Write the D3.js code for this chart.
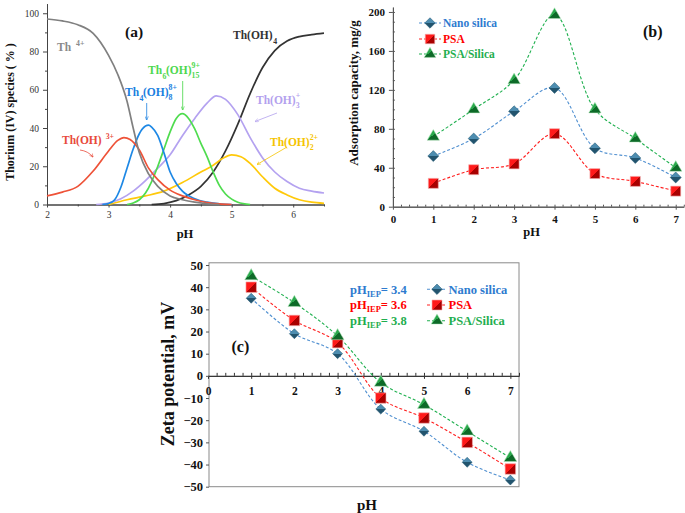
<!DOCTYPE html>
<html><head><meta charset="utf-8">
<script src="https://cdn.jsdelivr.net/npm/d3@7"></script>
<style>body{margin:0;background:#fff}svg{display:block}</style>
</head><body>
<svg id="chart" width="685" height="513"></svg>
<script>
// ---------- Panel (a): thorium speciation ----------
const th4_pH  = [2, 2.25, 2.5, 2.75, 3.0, 3.15, 3.3, 3.4, 3.5, 3.65, 3.8, 4.0, 4.2, 4.4, 4.6, 4.8];
const th4_val = [97, 96, 94, 89.5, 78, 68, 54, 40, 27, 16, 9.5, 4.5, 2.5, 1.2, 0.4, 0];
const thOH_pH  = [2, 2.25, 2.5, 2.75, 3.0, 3.15, 3.25, 3.35, 3.5, 3.65, 3.8, 4.0, 4.2, 4.4, 4.6, 4.8, 5.0];
const thOH_val = [4.5, 6.5, 9.5, 17.5, 28, 33.5, 35, 34, 28.5, 19, 13, 7.5, 4.5, 2.5, 1, 0.3, 0];
const th4OH8_pH  = [2.9, 3.0, 3.1, 3.2, 3.3, 3.4, 3.5, 3.6, 3.65, 3.7, 3.8, 3.9, 4.0, 4.1, 4.2, 4.4, 4.6, 4.8, 5.0];
const th4OH8_val = [0, 0.5, 2.5, 9, 19, 29, 37, 41, 41.5, 40.5, 36, 27, 17, 11, 7, 3, 1.2, 0.4, 0];
const th6OH15_pH  = [3.3, 3.4, 3.5, 3.6, 3.7, 3.8, 3.9, 4.0, 4.1, 4.2, 4.3, 4.4, 4.5, 4.6, 4.7, 4.8, 4.9, 5.0, 5.1, 5.3];
const th6OH15_val = [0, 0.8, 2.5, 6, 12, 20, 29, 38, 45, 47.5, 45, 39.5, 32, 25, 17, 10, 5.5, 2.8, 1.2, 0];
const thOH3_pH  = [2.8, 3.0, 3.2, 3.4, 3.6, 3.8, 4.0, 4.2, 4.4, 4.6, 4.75, 4.9, 5.1, 5.3, 5.5, 5.7, 5.9, 6.1, 6.3, 6.5];
const thOH3_val = [0, 0.8, 3, 7, 12.5, 19, 26, 36, 45, 53, 56.8, 55, 47, 35, 24.5, 17, 12, 8.5, 7, 6];
const thOH2_pH  = [3.0, 3.3, 3.6, 3.9, 4.2, 4.5, 4.7, 4.85, 5.0, 5.15, 5.3, 5.5, 5.7, 5.9, 6.1, 6.3, 6.5];
const thOH2_val = [0, 2.5, 4.5, 7, 11.5, 17, 20.5, 24, 26, 25, 21.5, 14.5, 8.5, 5, 2.5, 1.2, 0.6];
const thOH4_pH  = [3.7, 3.9, 4.1, 4.3, 4.5, 4.7, 4.9, 5.1, 5.3, 5.5, 5.7, 5.9, 6.1, 6.3, 6.5];
const thOH4_val = [0, 0.5, 2, 5, 9.5, 17, 28, 42, 58, 71.5, 80.5, 85.5, 87.8, 88.8, 89.6];
const aXTicks = [2, 3, 4, 5, 6];
const aYTicks = [0, 20, 40, 60, 80, 100];

// ---------- Panel (b): adsorption capacity ----------
const phCats = [1, 2, 3, 4, 5, 6, 7];
const adsNano = [52, 70, 98, 122, 60, 50, 30];
const adsPSA = [24, 38, 44, 75, 34, 26, 16];
const adsPSASilica = [72, 100, 130, 197, 100, 70, 40];
const bXTicks = [0, 1, 2, 3, 4, 5, 6, 7];
const bYTicks = [0, 40, 80, 120, 160, 200];

// ---------- Panel (c): zeta potential ----------
const zetaNano = [35, 19, 10, -15, -25, -39, -47];
const zetaPSA = [40, 25, 15, -10, -19, -30, -42];
const zetaPSASilica = [45, 33, 18, -3, -13, -25, -37];
const cYTicks = [50, 40, 30, 20, 10, 0, -10, -20, -30, -40, -50];
const seriesNames = ["Nano silica", "PSA", "PSA/Silica"];
const iepValues = ["3.4", "3.6", "3.8"];

const serif = '"Liberation Serif","Times New Roman",Times,serif';
const svg = d3.select("#chart");

// gradients for 3D-looking markers
const defs = svg.append("defs");
function grad(id, c1, c2) {
  const g = defs.append("linearGradient").attr("id", id)
    .attr("x1", "0").attr("y1", "0").attr("x2", "1").attr("y2", "1");
  g.append("stop").attr("offset", "0").attr("stop-color", c1);
  g.append("stop").attr("offset", "0.5").attr("stop-color", c1);
  g.append("stop").attr("offset", "0.5").attr("stop-color", c2);
  g.append("stop").attr("offset", "1").attr("stop-color", c2);
}
grad("gNano", "#4d8db0", "#22546e");
grad("gPSA", "#ff1a1a", "#a80000");
grad("gPS", "#2aa84c", "#0d6a28");
["arrGray","arrBlue","arrGreen","arrPurple","arrYellow","arrRed"].forEach((id,i)=>{
  const col = ["#888","#1a7fe0","#44d444","#b3a1ee","#f5c400","#e84a3a"][i];
  defs.append("marker").attr("id", id).attr("viewBox","0 0 10 10").attr("refX",9).attr("refY",5)
    .attr("markerWidth",5).attr("markerHeight",5).attr("orient","auto")
    .append("path").attr("d","M0,1 L10,5 L0,9").attr("fill","none").attr("stroke",col).attr("stroke-width",1.5);
});

function styleAxis(g, fs, fw, tc, lc) {
  g.attr("font-family", serif).attr("font-size", fs).attr("font-weight", fw);
  g.selectAll("text").attr("fill", tc);
  g.selectAll("line").attr("stroke", lc);
  g.select(".domain").attr("stroke", lc);
}
function range(a, b, s) { const r = []; for (let v = a; v <= b + 1e-9; v += s) r.push(+v.toFixed(3)); return r; }

// ================= PANEL A =================
const xA = d3.scaleLinear().domain([2, 6.5]).range([47, 324]);
const yA = d3.scaleLinear().domain([0, 105]).range([204.5, 3.7]);
const gA = svg.append("g");
gA.append("g").attr("transform", "translate(0,204.5)")
  .call(d3.axisBottom(xA).tickValues(range(2.5, 6.5, 1)).tickSize(2).tickSizeOuter(0).tickFormat(""))
  .call(g => styleAxis(g, 9, "normal", "#333", "#444"));
gA.append("g").attr("transform", "translate(0,204.5)")
  .call(d3.axisBottom(xA).tickValues(aXTicks).tickSize(3).tickSizeOuter(0).tickPadding(4).tickFormat(d3.format("d")))
  .call(g => styleAxis(g, 9.5, "normal", "#333", "#444"));
gA.append("g").attr("transform", "translate(47,0)")
  .call(d3.axisLeft(yA).tickValues(range(10, 90, 20)).tickSize(2).tickSizeOuter(0).tickFormat(""))
  .call(g => styleAxis(g, 9, "normal", "#333", "#444"));
gA.append("g").attr("transform", "translate(47,0)")
  .call(d3.axisLeft(yA).tickValues(aYTicks).tickSize(4).tickSizeOuter(0).tickPadding(4))
  .call(g => styleAxis(g, 9.5, "normal", "#333", "#444"));

const lineA = d3.line().x(d => xA(d[0])).y(d => yA(d[1])).curve(d3.curveMonotoneX);
const speciesA = [
  [thOH4_pH, thOH4_val, "#333333"],
  [thOH2_pH, thOH2_val, "#ffc90a"],
  [thOH3_pH, thOH3_val, "#b4a2f0"],
  [th6OH15_pH, th6OH15_val, "#4fdc4f"],
  [th4OH8_pH, th4OH8_val, "#1e88e5"],
  [thOH_pH, thOH_val, "#ee5238"],
  [th4_pH, th4_val, "#808080"]
];
speciesA.forEach(([p, v, c]) => {
  gA.append("path").datum(d3.zip(p, v)).attr("d", lineA)
    .attr("fill", "none").attr("stroke", c).attr("stroke-width", 1.7);
});

function chem(g, x, y, parts, fs, color) {
  let cx = x;
  const small = fs * 0.68;
  parts.forEach(p => {
    const base = { "font-family": serif, "font-weight": "bold", fill: color };
    const mk = (tx, ty, s, txt) => {
      const t = g.append("text").attr("x", tx).attr("y", ty).attr("font-size", s).text(txt);
      Object.entries(base).forEach(([k, val]) => t.attr(k, val));
      return t.node().getComputedTextLength();
    };
    if (p.n !== undefined) cx += mk(cx, y, fs, p.n);
    else if (p.gap !== undefined) cx += p.gap;
    else if (p.sub !== undefined) cx += mk(cx + 0.5, y + fs * 0.42, small, p.sub);
    else if (p.sup !== undefined) cx += mk(cx, y - fs * 0.42, small, p.sup);
    else if (p.stack) {
      const w1 = mk(cx, y - fs * 0.5, small, p.stack[0]);
      const w2 = mk(cx, y + fs * 0.38, small, p.stack[1]);
      cx += Math.max(w1, w2);
    }
  });
}
const fsA = 11.5;
chem(gA, 57, 51, [{n: "Th"}, {gap: 5}, {sup: "4+"}], fsA, "#8a8a8a");
chem(gA, 233, 39, [{n: "Th(OH)"}, {sub: "4"}], fsA, "#333");
chem(gA, 148, 74, [{n: "Th"}, {sub: "6"}, {n: "(OH)"}, {stack: ["9+", "15"]}], fsA, "#4ed84e");
chem(gA, 125, 96, [{n: "Th"}, {sub: "4"}, {n: "(OH)"}, {stack: ["8+", "8"]}], fsA, "#1a80e0");
chem(gA, 256, 104, [{n: "Th(OH)"}, {stack: ["+", "3"]}], fsA, "#b3a1ee");
chem(gA, 62, 144, [{n: "Th(OH)"}, {gap: 4}, {sup: "3+"}], fsA, "#e84a3a");
chem(gA, 270, 146, [{n: "Th(OH)"}, {stack: ["2+", "2"]}], fsA, "#f5c400");
const arrows = [
  [146.7, 103, 146.7, 120, "#1a80e0", "arrBlue"],
  [182.7, 81, 182.7, 110, "#44d444", "arrGreen"],
  [277, 113, 255, 121.5, "#b3a1ee", "arrPurple"],
  [287, 147, 257, 164.5, "#f5c400", "arrYellow"]
];
arrows.forEach(a => gA.append("line").attr("x1", a[0]).attr("y1", a[1]).attr("x2", a[2]).attr("y2", a[3])
  .attr("stroke", a[4]).attr("stroke-width", 0.8).attr("marker-end", `url(#${a[5]})`));
gA.append("path").attr("d", "M80,150 Q88,151 93,157").attr("fill", "none").attr("stroke", "#e84a3a")
  .attr("stroke-width", 0.8).attr("marker-end", "url(#arrRed)");
gA.append("text").attr("x", 125).attr("y", 37).attr("font-family", serif).attr("font-weight", "bold")
  .attr("font-size", 15.5).attr("fill", "#111").text("(a)");
gA.append("text").attr("x", 185).attr("y", 238).attr("text-anchor", "middle").attr("font-family", serif)
  .attr("font-weight", "bold").attr("font-size", 12.5).attr("fill", "#111").text("pH");
gA.append("text").attr("transform", "translate(10,112) rotate(-90)").attr("text-anchor", "middle")
  .attr("dominant-baseline", "central").attr("font-family", serif).attr("font-weight", "bold")
  .attr("font-size", 12).attr("fill", "#111").text("Thorium (IV) species ( % )");

// ================= shared series styling =================
const seriesStyle = [
  {line: "#4f8fd0", text: "#2e7bcf", fill: "url(#gNano)", stroke: "#1f5570", sym: "diamond"},
  {line: "#ff2020", text: "#ff0000", fill: "url(#gPSA)", stroke: "#900000", sym: "square"},
  {line: "#1fb04f", text: "#1fae4f", fill: "url(#gPS)", stroke: "#0b5a20", sym: "triangle"}
];
function marker(g, x, y, st, size) {
  if (st.sym === "diamond") {
    g.append("path").attr("d", d3.symbol(d3.symbolSquare, size * size * 0.55)())
      .attr("transform", `translate(${x},${y}) rotate(45)`).attr("fill", st.fill).attr("stroke", st.stroke).attr("stroke-width", 0.5);
  } else if (st.sym === "square") {
    g.append("path").attr("d", d3.symbol(d3.symbolSquare, size * size)())
      .attr("transform", `translate(${x},${y})`).attr("fill", st.fill).attr("stroke", "#f5b0b0").attr("stroke-width", 0.6);
  } else {
    g.append("path").attr("d", d3.symbol(d3.symbolTriangle, size * size * 0.6)())
      .attr("transform", `translate(${x},${y})`).attr("fill", st.fill).attr("stroke", "#b8e8c0").attr("stroke-width", 0.5);
  }
}

// ================= PANEL B =================
const xB = d3.scaleLinear().domain([0, 7.2]).range([392.9, 683.8]);
const yB = d3.scaleLinear().domain([0, 205]).range([206.7, 7.1]);
const gB = svg.append("g");
gB.append("g").attr("transform", "translate(0,206.7)")
  .call(d3.axisTop(xB).tickValues(range(0.2, 7.2, 0.2)).tickSize(2).tickSizeOuter(0).tickFormat(""))
  .call(g => styleAxis(g, 10, "bold", "#111", "#555"));
gB.append("g").attr("transform", "translate(0,206.7)")
  .call(d3.axisBottom(xB).tickValues(bXTicks).tickSize(3).tickSizeOuter(0).tickPadding(6).tickFormat(d3.format("d")))
  .call(g => styleAxis(g, 11, "bold", "#111", "#555"));
gB.append("g").attr("transform", "translate(392.9,0)")
  .call(d3.axisRight(yB).tickValues(range(10, 200, 10)).tickSize(2).tickSizeOuter(0).tickFormat(""))
  .call(g => styleAxis(g, 10, "bold", "#111", "#555"));
gB.append("g").attr("transform", "translate(392.9,0)")
  .call(d3.axisLeft(yB).tickValues(bYTicks).tickSize(4).tickSizeOuter(0).tickPadding(4))
  .call(g => styleAxis(g, 11, "bold", "#111", "#555"));

const lineB = d3.line().x(d => xB(d[0])).y(d => yB(d[1])).curve(d3.curveCatmullRom.alpha(0.5));
[adsNano, adsPSA, adsPSASilica].forEach((vals, i) => {
  gB.append("path").datum(d3.zip(phCats, vals)).attr("d", lineB).attr("fill", "none")
    .attr("stroke", seriesStyle[i].line).attr("stroke-width", 1.1).attr("stroke-dasharray", "3,2");
});
[adsNano, adsPSA, adsPSASilica].forEach((vals, i) => {
  phCats.forEach((p, j) => marker(gB, xB(p), yB(vals[j]), seriesStyle[i], i === 1 ? 10 : 10.5));
});
[23, 39, 54].forEach((yy, i) => {
  gB.append("line").attr("x1", 419).attr("x2", 441).attr("y1", yy).attr("y2", yy)
    .attr("stroke", seriesStyle[i].line).attr("stroke-width", 1.1).attr("stroke-dasharray", "3,2");
  marker(gB, 430, yy, seriesStyle[i], i === 1 ? 9.5 : 10);
  gB.append("text").attr("x", 443).attr("y", yy).attr("dy", "0.35em").attr("font-family", serif)
    .attr("font-weight", "bold").attr("font-size", 11.5).attr("fill", seriesStyle[i].text).text(seriesNames[i]);
});
gB.append("text").attr("x", 643).attr("y", 37).attr("font-family", serif).attr("font-weight", "bold")
  .attr("font-size", 16).attr("fill", "#111").text("(b)");
gB.append("text").attr("x", 531.7).attr("y", 236).attr("text-anchor", "middle").attr("font-family", serif)
  .attr("font-weight", "bold").attr("font-size", 12.5).attr("fill", "#111").text("pH");
gB.append("text").attr("transform", "translate(353.5,93) rotate(-90)").attr("text-anchor", "middle")
  .attr("dominant-baseline", "central").attr("font-family", serif).attr("font-weight", "bold")
  .attr("font-size", 13).attr("fill", "#111").text("Adsorption capacity, mg/g");

// ================= PANEL C =================
const xC = d3.scaleLinear().domain([0, 7.2]).range([208, 519]);
const yC = d3.scaleLinear().domain([-50, 51]).range([486.7, 262.8]);
const gC = svg.append("g");
gC.append("rect").attr("x", xC(0) + 1).attr("y", yC(51)).attr("width", xC(7.2) - xC(0) - 1)
  .attr("height", yC(-50) - yC(51)).attr("fill", "none").attr("stroke", "#8a8a8a").attr("stroke-width", 1);
gC.append("g").attr("transform", `translate(0,${yC(0)})`)
  .call(d3.axisTop(xC).tickValues(range(0.2, 7.2, 0.2)).tickSize(3).tickSizeOuter(0).tickFormat(""))
  .call(g => styleAxis(g, 10, "bold", "#111", "#333"));
gC.append("g").attr("transform", `translate(0,${yC(0)})`)
  .call(d3.axisBottom(xC).tickValues(bXTicks).tickSize(3).tickSizeOuter(0).tickPadding(8).tickFormat(d3.format("d")))
  .call(g => styleAxis(g, 11.5, "bold", "#111", "#333"));
gC.append("g").attr("transform", `translate(${xC(0) + 1},0)`)
  .call(d3.axisLeft(yC).tickValues(cYTicks).tickSize(3).tickSizeOuter(0).tickPadding(3))
  .call(g => { styleAxis(g, 12.5, "bold", "#111", "#555"); g.select(".domain").remove(); });

const lineC = d3.line().x(d => xC(d[0])).y(d => yC(d[1])).curve(d3.curveCatmullRom.alpha(0.5));
[zetaNano, zetaPSA, zetaPSASilica].forEach((vals, i) => {
  gC.append("path").datum(d3.zip(phCats, vals)).attr("d", lineC).attr("fill", "none")
    .attr("stroke", seriesStyle[i].line).attr("stroke-width", 1.1).attr("stroke-dasharray", "3,2");
});
[zetaNano, zetaPSA, zetaPSASilica].forEach((vals, i) => {
  phCats.forEach((p, j) => marker(gC, xC(p), yC(vals[j]), seriesStyle[i], i === 1 ? 10.5 : (i === 0 ? 9.5 : 11)));
});
[289.3, 305, 320.7].forEach((yy, i) => {
  gC.append("line").attr("x1", 427).attr("x2", 447).attr("y1", yy).attr("y2", yy)
    .attr("stroke", seriesStyle[i].line).attr("stroke-width", 1.1).attr("stroke-dasharray", "3,2");
  marker(gC, 437, yy, seriesStyle[i], 10);
  gC.append("text").attr("x", 448.5).attr("y", yy).attr("dy", "0.35em").attr("font-family", serif)
    .attr("font-weight", "bold").attr("font-size", 12.5).attr("fill", seriesStyle[i].text).text(seriesNames[i]);
  const t = gC.append("text").attr("x", 350).attr("y", yy).attr("dy", "0.35em").attr("font-family", serif)
    .attr("font-weight", "bold").attr("font-size", 12.5).attr("fill", seriesStyle[i].text);
  t.append("tspan").text("pH");
  t.append("tspan").attr("font-size", 8.5).attr("dy", 3).text("IEP");
  t.append("tspan").attr("dy", -3).text("= " + iepValues[i]);
});
gC.append("text").attr("x", 231.5).attr("y", 352).attr("font-family", serif).attr("font-weight", "bold")
  .attr("font-size", 16).attr("fill", "#111").text("(c)");
gC.append("text").attr("x", 367).attr("y", 510).attr("text-anchor", "middle").attr("font-family", serif)
  .attr("font-weight", "bold").attr("font-size", 15).attr("fill", "#111").text("pH");
gC.append("text").attr("transform", "translate(168,374) rotate(-90)").attr("text-anchor", "middle")
  .attr("dominant-baseline", "central").attr("font-family", serif).attr("font-weight", "bold")
  .attr("font-size", 18).attr("fill", "#111").text("Zeta potential, mV");
</script>
</body></html>
